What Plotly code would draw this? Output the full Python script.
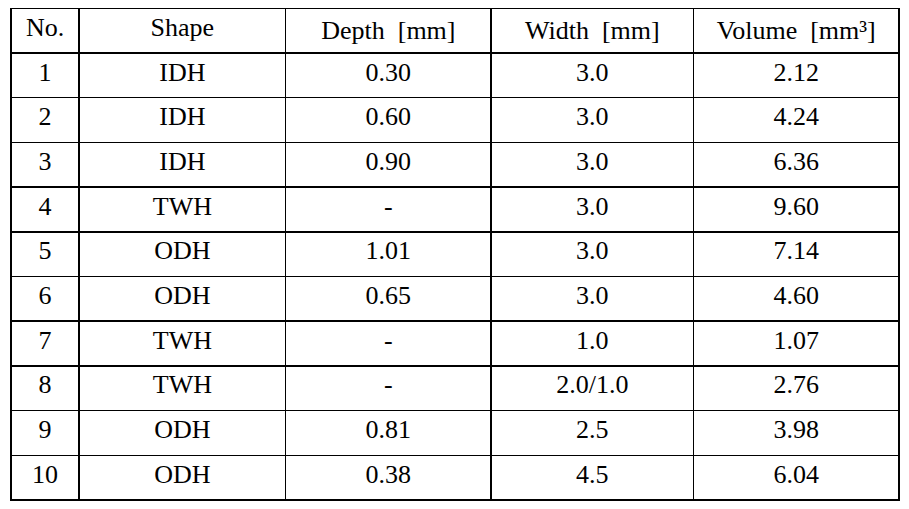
import plotly.graph_objects as go

# table data
numbers = ["1", "2", "3", "4", "5", "6", "7", "8", "9", "10"]
shapes = ["IDH", "IDH", "IDH", "TWH", "ODH", "ODH", "TWH", "TWH", "ODH", "ODH"]
depths = ["0.30", "0.60", "0.90", "-", "1.01", "0.65", "-", "-", "0.81", "0.38"]
widths = ["3.0", "3.0", "3.0", "3.0", "3.0", "3.0", "1.0", "2.0/1.0", "2.5", "4.5"]
volumes = ["2.12", "4.24", "6.36", "9.60", "7.14", "4.60", "1.07", "2.76", "3.98", "6.04"]

headers = ["No.", "Shape", "Depth&nbsp;&nbsp;[mm]", "Width&nbsp;&nbsp;[mm]",
           "Volume&nbsp;&nbsp;[mm³]"]

font = dict(family="Liberation Serif", size=26, color="#000000")
line = dict(color="#000000", width=1.5)

fig = go.Figure(go.Table(
    columnwidth=[68, 206, 205, 202, 205],
    header=dict(values=headers, align="center", font=font, line=line,
                fill_color="white", height=45),
    cells=dict(values=[numbers, shapes, depths, widths, volumes], align="center",
               font=font, line=line, fill_color="white", height=44.7),
    domain=dict(x=[0, 1], y=[0, 1]),
))

fig.update_layout(
    width=909, height=509,
    margin=dict(l=3, r=18, t=0, b=0),
    paper_bgcolor="white",
)

fig.write_html("out.html")
